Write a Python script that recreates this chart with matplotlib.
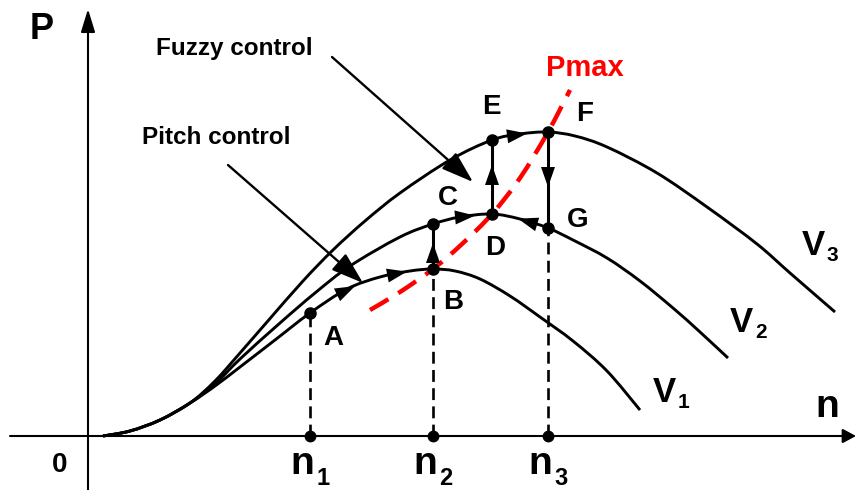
import numpy as np
import matplotlib
matplotlib.use("Agg")
import matplotlib.pyplot as plt
from matplotlib.patches import ArrowStyle, PathPatch
from matplotlib.path import Path

plt.rcParams['font.family'] = ['Liberation Sans', 'DejaVu Sans']
plt.rcParams['font.weight'] = 'bold'

# ---- data (n = rotor speed, P = power, schematic units) ----
v1_n = [15, 42, 72, 102, 127, 152, 187, 222, 259, 292, 322, 345, 367, 392, 422, 452, 485, 519, 552]
v1_p = [0, 5, 16, 33, 50, 69, 96, 123, 147, 159, 165, 167, 165, 157, 140, 119, 95, 65, 26]

v2_n = [15, 42, 72, 102, 127, 152, 192, 227, 262, 312, 345, 372, 404, 432, 460, 485, 519, 552, 585, 612, 640]
v2_p = [0, 5, 16, 33, 52, 77, 113, 143, 170, 199, 212, 219, 222, 217, 208, 196, 178, 155, 128, 104, 78]

v3_n = [15, 42, 72, 102, 127, 152, 179, 215, 245, 277, 312, 362, 404, 432, 460, 487, 519, 569, 619, 669, 702, 747]
v3_p = [0, 5, 16, 33, 55, 83, 114, 155, 186, 215, 243, 276, 296, 302, 304, 300, 289, 263, 229, 192, 163, 124]

pmax_n = [282, 312, 345, 374, 404, 432, 460, 482]
pmax_p = [126, 144, 167, 192, 222, 258, 304, 346]

speed_ticks = [222, 345, 460]          # n1, n2, n3
tick_labels = ['1', '2', '3']

point_names = ['A', 'B', 'C', 'D', 'E', 'F', 'G']
point_n = [222, 345, 345, 404, 404, 460, 460]
point_p = [123, 167, 212, 222, 296, 304, 208]

curve_labels = ['1', '2', '3']

fig = plt.figure(figsize=(8.56, 4.9), dpi=100)
ax = fig.add_axes([0, 0, 1, 1])
ax.set_xlim(-88, 768)
ax.set_ylim(-54, 436)
ax.axis('off')


def smooth_path(xs, ys):
    """Smooth Bezier path passing through every data point (Catmull-Rom)."""
    pts = np.column_stack([xs, ys]).astype(float)
    verts = [pts[0]]
    codes = [Path.MOVETO]
    for i in range(len(pts) - 1):
        p0 = pts[i - 1] if i > 0 else pts[i]
        p1 = pts[i]
        p2 = pts[i + 1]
        p3 = pts[i + 2] if i + 2 < len(pts) else pts[i + 1]
        verts += [p1 + (p2 - p0) / 6.0, p2 - (p3 - p1) / 6.0, p2]
        codes += [Path.CURVE4] * 3
    return Path(verts, codes)


# axes with arrows
ax.annotate('', xy=(768, 0), xytext=(-78, 0),
            arrowprops=dict(arrowstyle=ArrowStyle('-|>', head_length=0.8, head_width=0.43),
                            mutation_scale=10, lw=1.5, color='k', shrinkA=0, shrinkB=0))
ax.annotate('', xy=(0, 427), xytext=(0, -54),
            arrowprops=dict(arrowstyle=ArrowStyle('-|>', head_length=1.4, head_width=0.43),
                            mutation_scale=10, lw=1.5, color='k', shrinkA=0, shrinkB=0))

# curves
for cn, cp in [(v1_n, v1_p), (v2_n, v2_p), (v3_n, v3_p)]:
    ax.add_patch(PathPatch(smooth_path(cn, cp), fill=False, ec='k', lw=2.1,
                           capstyle='butt', joinstyle='round'))

# Pmax
ax.add_patch(PathPatch(smooth_path(pmax_n, pmax_p), fill=False, ec='#ff0000', lw=3.2,
                       linestyle=(0, (4.8, 2.6)), zorder=4))

# dashed verticals from ticks to points A, B, G
for t, pt in zip(speed_ticks, [point_p[0], point_p[1], point_p[6]]):
    ax.plot([t, t], [0, pt], color='k', lw=1.9, dashes=(4.5, 2.4))
    ax.plot([t], [0], 'o', color='k', ms=7.5, zorder=5)

# solid vertical transitions B->C, D->E, F->G
for i0, i1 in [(1, 2), (3, 4), (5, 6)]:
    ax.plot([point_n[i0], point_n[i1]], [point_p[i0], point_p[i1]], color='k', lw=2.2)

# dots at points
ax.plot(point_n, point_p, 'o', color='k', ms=8, zorder=6)

head = ArrowStyle('-|>', head_length=1.2, head_width=0.42)


def curve_head(cn, cp, n_tip, direction):
    tip = (n_tip, float(np.interp(n_tip, cn, cp)))
    nt = n_tip - direction * 14
    tail = (nt, float(np.interp(nt, cn, cp)))
    ax.annotate('', xy=tip, xytext=tail,
                arrowprops=dict(arrowstyle=head, mutation_scale=12, lw=0, color='k',
                                shrinkA=0, shrinkB=0), zorder=7)


curve_head(v1_n, v1_p, 267, 1)
curve_head(v1_n, v1_p, 319, 1)
curve_head(v2_n, v2_p, 387, 1)
curve_head(v2_n, v2_p, 430, -1)
curve_head(v3_n, v3_p, 439, 1)


def vert_head(n, p_tip, direction):
    ax.annotate('', xy=(n, p_tip), xytext=(n, p_tip - direction * 14),
                arrowprops=dict(arrowstyle=head, mutation_scale=12, lw=0, color='k',
                                shrinkA=0, shrinkB=0), zorder=7)


vert_head(345, 193, 1)
vert_head(404, 271, 1)
vert_head(460, 249, -1)

# pointer arrows
big = ArrowStyle('-|>', head_length=1.8, head_width=0.6)
ax.annotate('', xy=(275, 153), xytext=(140, 271),
            arrowprops=dict(arrowstyle=big, mutation_scale=11, lw=1.7, color='k', shrinkA=0, shrinkB=0))
ax.annotate('', xy=(385, 254), xytext=(244, 379),
            arrowprops=dict(arrowstyle=big, mutation_scale=11, lw=1.7, color='k', shrinkA=0, shrinkB=0))

# texts
ax.text(146, 387, 'Fuzzy control', fontsize=17.5, ha='center', va='center')
ax.text(128, 299, 'Pitch control', fontsize=17.5, ha='center', va='center')
ax.text(497, 368, 'Pmax', fontsize=21, color='#ff0000', ha='center', va='center')

ax.text(-58, 397, 'P', fontsize=26, ha='left', va='baseline')
ax.text(-28, -36, '0', fontsize=20, ha='center', va='baseline')
ax.text(739, 19, 'n', fontsize=28, ha='center', va='baseline')

label_off = [(23, -25), (20, -33), (15, 26), (3, -34), (-1, 33), (37, 18), (30, 8)]
for name, pn, pp, (dx, dy) in zip(point_names, point_n, point_p, label_off):
    ax.text(pn + dx, pp + dy, name, fontsize=20, ha='center', va='center')

for t, lab in zip(speed_ticks, tick_labels):
    ax.text(t + 4, -38, 'n', fontsize=28, ha='right', va='baseline')
    ax.text(t + 6, -49, lab, fontsize=17, ha='left', va='baseline')

curve_label_pos = [(565, 34), (642, 104), (714, 181)]
for (ln, lp), lab in zip(curve_label_pos, curve_labels):
    ax.text(ln, lp, 'V', fontsize=25, ha='left', va='baseline')
    ax.text(ln + 25, lp - 6, lab, fontsize=15, ha='left', va='baseline')

fig.savefig('out.png', dpi=100)
